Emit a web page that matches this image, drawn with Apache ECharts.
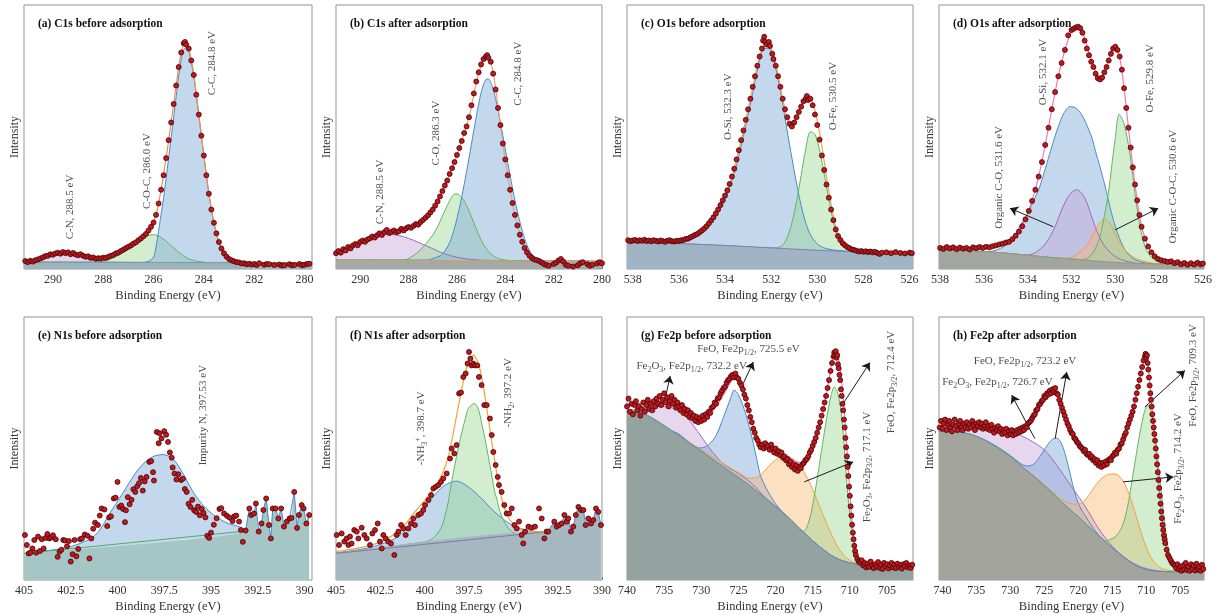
<!DOCTYPE html>
<html>
<head>
    <meta charset="utf-8">
    <title>XPS spectra before and after adsorption</title>
    <script src="https://cdn.jsdelivr.net/npm/echarts@6.0.0/dist/echarts.min.js"></script>
    <style>
        html, body { margin: 0; padding: 0; background: #fff; }
        #main { width: 1216px; height: 615px; }
    </style>
</head>
<body>
    <div id="main"></div>
    <script type="text/javascript">
        // ---- tick labels ----
        var ticksC1s = [280, 282, 284, 286, 288, 290];
        var minorC1s = [281, 283, 285, 287, 289, 291];
        var ticksO1s = [526, 528, 530, 532, 534, 536, 538];
        var minorO1s = [527, 529, 531, 533, 535, 537];
        var ticksN1s = [390, 392.5, 395, 397.5, 400, 402.5, 405];
        var minorN1s = [391.25, 393.75, 396.25, 398.75, 401.25, 403.75];
        var ticksFe = [705, 710, 715, 720, 725, 730, 735, 740];
        var minorFe = [702.5, 707.5, 712.5, 717.5, 722.5, 727.5, 732.5, 737.5];

        // ---- (a) C1s before adsorption ----
        var aDots = [[291.1,3.0],[291.0,2.6],[290.9,3.1],[290.8,2.8],[290.7,3.3],[290.6,3.6],[290.5,4.0],[290.4,4.4],[290.3,4.9],[290.2,5.0],[290.1,5.6],[290.0,5.4],[289.9,5.9],[289.8,6.2],[289.7,5.8],[289.6,6.4],[289.5,6.0],[289.4,6.3],[289.3,5.6],[289.2,6.1],[289.1,5.5],[289.0,5.2],[288.9,5.6],[288.8,5.0],[288.7,4.6],[288.6,4.8],[288.5,4.2],[288.4,4.4],[288.3,3.9],[288.2,4.1],[288.1,4.0],[288.0,4.3],[287.9,4.2],[287.8,4.6],[287.7,5.0],[287.6,5.3],[287.5,5.9],[287.4,6.2],[287.3,6.8],[287.2,7.3],[287.1,7.9],[287.0,8.4],[286.9,8.9],[286.8,9.6],[286.7,10.1],[286.6,10.9],[286.5,11.6],[286.4,12.4],[286.3,13.3],[286.2,14.6],[286.1,16.0],[286.0,17.6],[285.9,20.5],[285.8,24.8],[285.7,30.0],[285.6,35.5],[285.5,42.0],[285.4,48.8],[285.3,55.5],[285.2,62.5],[285.1,69.5],[285.0,76.5],[284.9,82.0],[284.8,85.5],[284.75,86.0],[284.7,85.0],[284.6,83.5],[284.5,79.0],[284.4,73.5],[284.3,66.0],[284.2,58.5],[284.1,50.5],[284.0,43.0],[283.9,35.5],[283.8,28.5],[283.7,22.5],[283.6,17.5],[283.5,13.5],[283.4,10.2],[283.3,7.8],[283.2,6.0],[283.1,4.7],[283.0,3.8],[282.9,3.3],[282.8,2.9],[282.7,2.6],[282.6,2.5],[282.5,2.1],[282.4,2.2],[282.3,1.8],[282.2,2.0],[282.1,1.7],[282.0,1.9],[281.9,1.5],[281.8,2.2],[281.6,1.6],[281.5,1.9],[281.4,1.8],[281.2,1.5],[281.0,1.7],[280.9,1.3],[280.8,1.4],[280.6,1.8],[280.5,1.4],[280.4,1.5],[280.2,1.9],[280.1,1.4],[280.0,1.6],[279.9,1.9],[279.8,2.0]];
        var aBg = [[291.15,2.6],[279.7,2.3]];
        var aCN = [[290.9,2.65],[290.6,3.1],[290.3,4.2],[290.0,5.3],[289.7,6.0],[289.4,6.2],[289.1,5.7],[288.8,4.7],[288.5,3.7],[288.2,2.9],[287.9,2.55]];
        var aCOC = [[288.3,2.6],[288.0,3.0],[287.7,3.8],[287.4,5.2],[287.1,7.0],[286.8,9.2],[286.5,11.3],[286.25,12.6],[286.05,13.0],[285.85,12.7],[285.6,11.3],[285.4,9.7],[285.2,8.0],[285.0,6.4],[284.8,5.0],[284.6,3.9],[284.4,3.2],[284.1,2.7],[283.8,2.45]];
        var aCC = [[286.5,2.5],[286.2,2.9],[286.0,4.5],[285.9,8.5],[285.8,14.5],[285.7,20.7],[285.6,27.0],[285.5,34.3],[285.4,42.0],[285.3,49.6],[285.2,57.5],[285.1,65.4],[285.0,73.2],[284.9,79.5],[284.8,83.1],[284.7,83.9],[284.6,82.5],[284.5,78.4],[284.4,73.1],[284.3,65.7],[284.2,58.3],[284.1,50.4],[284.0,43.0],[283.9,35.5],[283.8,28.5],[283.7,22.5],[283.6,17.5],[283.5,13.5],[283.4,10.2],[283.3,7.8],[283.2,6.0],[283.1,4.7],[283.0,3.8],[282.8,2.9],[282.6,2.5],[282.4,2.35]];
        var aEnv = [[291.15,2.8],[290.8,3.2],[290.5,4.0],[290.2,5.1],[289.9,5.8],[289.6,6.1],[289.3,6.0],[289.0,5.5],[288.7,4.8],[288.4,4.3],[288.1,4.1],[287.8,4.5],[287.5,5.6],[287.2,7.2],[286.9,8.9],[286.6,10.8],[286.3,13.3],[286.1,16.0],[285.9,20.5],[285.7,30.0],[285.5,42.0],[285.3,55.5],[285.1,69.5],[284.95,79.5],[284.8,85.0],[284.7,85.3],[284.55,81.5],[284.4,73.5],[284.2,58.5],[284.0,43.0],[283.8,28.5],[283.6,17.5],[283.4,10.2],[283.2,6.0],[283.0,3.8],[282.7,2.8],[282.3,2.4],[281.5,2.3],[279.7,2.3]];
        var aNotes = [
            {at: [283.69, 78], text: 'C-C, 284.8 eV', rot: 90},
            {at: [286.27, 37.1], text: 'C-O-C, 286.0 eV', rot: 90},
            {at: [289.32, 23.5], text: 'C-N, 288.5 eV', rot: 90}
        ];

        // ---- (b) C1s after adsorption ----
        var bDots = [[291.0,6.0],[290.9,6.8],[290.8,6.2],[290.7,7.5],[290.6,7.0],[290.5,8.3],[290.4,7.8],[290.3,8.9],[290.2,9.5],[290.1,9.0],[290.0,10.2],[289.9,10.8],[289.8,10.3],[289.7,11.2],[289.6,11.6],[289.5,12.3],[289.4,11.9],[289.3,12.8],[289.2,13.5],[289.1,12.9],[289.0,14.0],[288.9,14.8],[288.8,13.6],[288.7,14.1],[288.6,14.6],[288.5,13.9],[288.4,14.3],[288.3,15.2],[288.2,14.6],[288.1,15.4],[288.0,15.9],[287.9,15.6],[287.8,16.3],[287.7,17.0],[287.6,16.8],[287.5,17.8],[287.4,18.6],[287.3,19.4],[287.2,20.3],[287.1,21.4],[287.0,22.5],[286.9,24.0],[286.8,25.6],[286.7,27.5],[286.6,29.5],[286.5,31.6],[286.4,33.5],[286.3,36.0],[286.2,38.2],[286.1,40.5],[286.0,43.2],[285.9,45.8],[285.8,48.5],[285.7,51.5],[285.6,54.0],[285.5,57.5],[285.4,62.0],[285.3,66.5],[285.2,71.0],[285.1,74.5],[285.0,77.5],[284.9,79.5],[284.8,80.5],[284.75,81.0],[284.7,80.0],[284.6,78.5],[284.5,74.0],[284.4,68.0],[284.3,61.0],[284.2,54.5],[284.1,47.5],[284.0,41.5],[283.9,35.5],[283.8,30.0],[283.7,25.0],[283.6,20.5],[283.5,16.5],[283.4,13.0],[283.3,10.3],[283.2,8.0],[283.1,6.3],[283.0,5.0],[282.9,4.2],[282.8,3.6],[282.7,3.4],[282.6,3.0],[282.5,2.5],[282.4,1.9],[282.3,1.5],[282.2,1.2],[282.0,1.9],[281.9,2.4],[281.8,3.2],[281.7,3.8],[281.6,2.8],[281.5,1.6],[281.4,1.2],[281.2,0.9],[281.0,1.4],[280.9,2.2],[280.8,2.6],[280.6,1.8],[280.5,1.2],[280.4,1.6],[280.2,2.1],[280.1,2.6],[280.0,2.2]];
        var bBg = [[291.0,3.4],[280.0,2.9]];
        var bCN = [[291.0,6.0],[290.6,7.6],[290.2,9.4],[289.8,11.0],[289.4,12.3],[289.0,13.1],[288.6,13.0],[288.2,12.2],[287.8,10.9],[287.4,9.3],[287.0,7.7],[286.6,6.1],[286.2,4.9],[285.8,4.1],[285.4,3.6],[285.0,3.35],[284.6,3.25]];
        var bCO = [[288.2,3.4],[287.9,4.5],[287.6,6.5],[287.3,9.3],[287.0,12.8],[286.8,16.0],[286.6,20.0],[286.4,24.0],[286.2,27.5],[286.05,28.5],[285.9,28.0],[285.7,25.8],[285.5,22.0],[285.3,17.5],[285.1,13.0],[284.9,9.3],[284.7,6.7],[284.5,5.0],[284.3,4.0],[284.0,3.4],[283.7,3.2]];
        var bCC = [[287.2,3.4],[287.0,3.9],[286.7,5.0],[286.5,6.8],[286.3,10.0],[286.1,15.5],[285.9,23.0],[285.7,32.0],[285.5,42.0],[285.3,52.5],[285.1,62.5],[284.95,68.5],[284.8,71.8],[284.7,72.0],[284.55,69.5],[284.4,64.5],[284.2,55.5],[284.0,45.5],[283.8,35.5],[283.6,26.0],[283.4,18.0],[283.2,11.5],[283.0,7.0],[282.8,4.7],[282.6,3.6],[282.4,3.1],[282.2,3.0]];
        var bEnv = [[291.0,6.2],[290.5,8.0],[290.0,10.0],[289.5,12.0],[289.0,13.6],[288.5,14.4],[288.0,15.5],[287.5,17.6],[287.0,22.5],[286.5,31.5],[286.0,43.0],[285.5,57.5],[285.2,70.5],[285.0,77.0],[284.8,80.3],[284.7,80.2],[284.5,74.5],[284.3,61.5],[284.1,47.5],[283.9,35.5],[283.7,25.0],[283.5,16.5],[283.3,10.3],[283.1,6.3],[282.9,4.2],[282.6,3.2],[282.2,3.0],[280.0,2.9]];
        var bNotes = [
            {at: [283.46, 74], text: 'C-C, 284.8 eV', rot: 90},
            {at: [286.88, 51.5], text: 'C-O, 286.3 eV', rot: 90},
            {at: [289.18, 29.2], text: 'C-N, 288.5 eV', rot: 90}
        ];

        // ---- (c) O1s before adsorption ----
        var cDots = [[538.2,10.9],[538.1,10.5],[538.0,10.8],[537.9,11.0],[537.8,10.6],[537.7,10.9],[537.6,10.7],[537.5,11.1],[537.4,10.6],[537.3,10.8],[537.2,10.5],[537.1,10.9],[537.0,10.7],[536.9,10.4],[536.8,10.8],[536.7,10.6],[536.6,10.3],[536.5,10.7],[536.4,10.9],[536.3,10.5],[536.2,10.4],[536.1,10.7],[536.0,10.6],[535.9,10.9],[535.8,11.0],[535.7,11.4],[535.6,11.5],[535.5,12.0],[535.4,12.4],[535.3,12.9],[535.2,13.3],[535.1,13.9],[535.0,14.6],[534.9,15.3],[534.8,16.2],[534.7,17.3],[534.6,18.4],[534.5,19.6],[534.4,21.0],[534.3,22.5],[534.2,24.2],[534.1,26.0],[534.0,27.8],[533.9,29.8],[533.8,32.2],[533.7,35.0],[533.6,38.0],[533.5,41.5],[533.4,45.0],[533.3,48.8],[533.2,52.5],[533.1,56.5],[533.0,60.5],[532.9,64.5],[532.8,69.0],[532.7,73.0],[532.6,77.0],[532.5,80.5],[532.4,83.5],[532.35,86.5],[532.3,88.0],[532.25,86.0],[532.2,85.0],[532.1,86.0],[532.05,84.5],[531.95,81.5],[531.9,79.5],[531.8,77.0],[531.7,73.0],[531.6,69.0],[531.5,64.5],[531.4,60.5],[531.3,57.5],[531.2,55.0],[531.1,54.0],[531.0,55.5],[530.9,57.5],[530.8,59.5],[530.7,61.5],[530.6,63.5],[530.5,64.5],[530.45,65.5],[530.4,64.0],[530.3,64.5],[530.2,62.0],[530.1,58.5],[530.0,54.5],[529.9,49.0],[529.8,43.0],[529.7,37.5],[529.6,32.0],[529.5,27.0],[529.4,22.5],[529.3,18.5],[529.2,15.0],[529.1,12.5],[529.0,11.0],[528.9,9.8],[528.8,9.0],[528.7,8.3],[528.6,7.9],[528.5,7.4],[528.4,7.2],[528.3,6.9],[528.2,6.6],[528.1,6.8],[528.0,6.5],[527.9,6.7],[527.8,6.4],[527.7,6.6],[527.6,6.3],[527.5,6.5],[527.4,6.1],[527.3,5.7],[527.2,6.2],[527.0,6.3],[526.8,6.0],[526.6,6.4],[526.4,6.1],[526.2,5.9],[526.0,6.2],[525.9,6.0]];
        var cBg = [[538.25,10.0],[536,9.6],[534,8.9],[532,8.0],[530,7.1],[528.5,6.6],[525.85,6.2]];
        var cOSi = [[536.5,9.8],[536.0,10.0],[535.6,10.8],[535.3,12.3],[535.0,14.3],[534.7,16.9],[534.4,20.2],[534.1,24.6],[533.8,31.0],[533.5,39.5],[533.2,50.5],[532.9,62.5],[532.7,71.0],[532.5,79.0],[532.3,83.5],[532.1,83.5],[531.9,79.5],[531.7,72.0],[531.5,62.5],[531.3,52.0],[531.1,42.0],[530.9,32.5],[530.7,24.0],[530.5,17.5],[530.3,13.0],[530.0,9.5],[529.7,8.0],[529.3,7.2],[528.9,6.9]];
        var cOFe = [[531.8,8.0],[531.5,9.0],[531.3,12.0],[531.1,17.5],[530.9,25.5],[530.7,35.5],[530.5,45.5],[530.3,52.0],[530.1,51.0],[529.9,45.0],[529.7,36.0],[529.5,26.5],[529.3,18.0],[529.1,12.0],[528.9,8.8],[528.6,7.1],[528.3,6.6]];
        var cEnv = [[538.25,10.8],[537,10.6],[536,10.6],[535.6,11.2],[535.3,12.7],[535,14.6],[534.7,17.5],[534.4,21],[534.1,26],[533.8,32],[533.5,41.5],[533.2,52.5],[532.9,64.5],[532.7,73],[532.5,80.5],[532.3,85],[532.15,85.5],[531.9,81],[531.7,73.5],[531.5,64.5],[531.3,57],[531.15,54.5],[531.0,55.5],[530.8,59.5],[530.6,63.5],[530.4,65],[530.2,63],[530.0,56],[529.8,46.5],[529.6,35],[529.4,24.5],[529.2,16],[529.0,11.5],[528.7,8.5],[528.4,7.3],[528,6.8],[527,6.4],[525.85,6.2]];
        var cNotes = [
            {at: [533.88, 61.5], text: 'O-Si, 532.3 eV', rot: 90},
            {at: [529.33, 65.5], text: 'O-Fe, 530.5 eV', rot: 90}
        ];

        // ---- (d) O1s after adsorption ----
        var dDots = [[538.0,8.0],[537.85,7.6],[537.7,8.3],[537.55,7.8],[537.4,8.2],[537.25,7.5],[537.1,8.1],[536.95,7.7],[536.8,8.0],[536.65,7.4],[536.5,8.2],[536.35,7.9],[536.2,8.3],[536.05,8.0],[535.9,8.4],[535.75,8.2],[535.6,8.6],[535.45,8.9],[535.3,9.3],[535.15,9.6],[535.0,10.0],[534.85,10.3],[534.7,11.3],[534.55,12.6],[534.4,14.2],[534.25,16.2],[534.1,18.8],[533.95,22.0],[533.8,25.8],[533.65,30.0],[533.5,35.0],[533.35,40.5],[533.2,47.0],[533.05,53.5],[532.9,60.5],[532.75,67.0],[532.6,73.0],[532.45,78.0],[532.3,83.0],[532.15,88.5],[532.0,90.5],[531.9,91.0],[531.8,91.5],[531.7,91.8],[531.6,91.2],[531.5,89.5],[531.4,86.5],[531.3,83.5],[531.2,81.0],[531.1,78.5],[531.0,76.5],[530.9,74.0],[530.8,72.3],[530.7,71.8],[530.6,72.5],[530.5,74.5],[530.4,76.5],[530.3,79.0],[530.2,81.5],[530.1,83.5],[530.0,84.2],[529.9,83.0],[529.8,80.5],[529.7,75.5],[529.6,68.5],[529.5,61.0],[529.4,53.5],[529.3,46.0],[529.2,38.5],[529.1,32.0],[529.0,26.0],[528.9,20.5],[528.8,16.0],[528.65,11.5],[528.5,8.5],[528.35,6.3],[528.2,4.8],[528.05,3.8],[527.9,3.3],[527.75,3.0],[527.6,2.7],[527.45,2.9],[527.3,2.2],[527.15,2.6],[527.0,1.8],[526.85,2.3],[526.7,1.6],[526.55,2.2],[526.4,1.7],[526.25,2.4],[526.1,1.8],[526.0,2.1]];
        var dBg = [[538.05,7.4],[536,6.6],[535,6.0],[534,5.2],[533,4.4],[532,3.8],[531,3.1],[530,2.5],[529,2.1],[528,1.9],[525.95,1.8]];
        var dOSi = [[535.5,7.0],[535.0,9.0],[534.6,12.5],[534.3,17.0],[534.0,21.0],[533.7,26.5],[533.5,30.0],[533.25,36.5],[533.0,43.5],[532.8,49.0],[532.6,54.0],[532.35,59.0],[532.07,61.5],[531.8,61.0],[531.53,58.4],[531.3,54.5],[531.08,50.0],[530.9,44.5],[530.7,38.7],[530.5,32.5],[530.32,26.2],[530.15,20.5],[530.0,16.1],[529.8,11.5],[529.56,7.3],[529.3,4.8],[529.1,3.5],[528.8,2.6],[528.5,2.1]];
        var dCO = [[534.0,5.3],[533.6,6.5],[533.3,8.5],[533.0,12.0],[532.75,16.0],[532.45,22.4],[532.1,28.0],[531.76,30.0],[531.4,27.0],[531.08,19.8],[530.85,14.5],[530.62,10.5],[530.4,7.8],[530.17,5.8],[529.9,4.2],[529.6,3.2],[529.2,2.4]];
        var dCOC = [[532.3,4.0],[531.99,4.5],[531.75,5.5],[531.53,7.0],[531.3,9.0],[531.08,12.0],[530.85,15.5],[530.65,18.0],[530.44,18.7],[530.2,16.8],[530.01,13.5],[529.8,10.0],[529.56,7.2],[529.3,5.2],[529.1,4.2],[528.8,3.2],[528.5,2.6],[528.2,2.1]];
        var dOFe = [[531.5,3.5],[531.08,5.5],[530.77,10.5],[530.55,18.0],[530.32,28.5],[530.17,38.5],[530.01,49.0],[529.82,58.6],[529.6,55.0],[529.33,43.5],[529.1,28.6],[528.87,16.0],[528.64,8.5],[528.34,4.3],[527.88,2.3],[527.5,2.0]];
        var dEnv = [[538.05,7.9],[536,8.1],[535.5,8.8],[535,10],[534.7,11.5],[534.4,14.3],[534.1,19],[533.8,26],[533.5,35],[533.2,47],[532.9,60.5],[532.6,73],[532.3,83],[532.0,90],[531.75,91.8],[531.5,89.5],[531.2,82],[530.9,75],[530.7,72.3],[530.5,74.5],[530.3,79],[530.05,83.8],[529.8,80],[529.6,68.5],[529.4,53.5],[529.2,38.5],[529.0,26],[528.8,16],[528.5,8.5],[528.2,4.8],[527.9,3.3],[527.5,2.6],[525.95,2.0]];
        var dNotes = [
            {at: [533.3, 74.6], text: 'O-Si, 532.1 eV', rot: 90},
            {at: [528.42, 72.2], text: 'O-Fe, 529.8 eV', rot: 90},
            {at: [535.31, 34.7], text: 'Organic C-O, 531.6 eV', rot: 90},
            {at: [527.35, 31.2], text: 'Organic C-O-C, 530.6 eV', rot: 90}
        ];
        var dArrows = [[[532.83, 16], [534.81, 23]], [[530.01, 14.8], [528.04, 23]]];

        // ---- (e) N1s before adsorption ----
        var eDots = [[404.95,17.1],[404.85,13.3],[404.75,10.1],[404.65,10.4],[404.55,12.0],[404.45,15.2],[404.35,10.4],[404.25,16.5],[404.15,11.0],[404.05,15.5],[403.95,12.0],[403.85,16.0],[403.75,17.5],[403.65,15.8],[403.55,16.2],[403.45,17.0],[403.3,15.5],[403.2,8.8],[403.1,10.8],[403.0,11.5],[402.9,15.2],[402.8,15.0],[402.7,12.8],[402.6,14.8],[402.5,7.0],[402.4,9.8],[402.3,15.2],[402.2,9.0],[402.1,11.8],[402.0,15.5],[401.9,15.8],[401.75,17.3],[401.6,16.8],[401.5,8.2],[401.4,15.8],[401.3,19.5],[401.2,21.8],[401.05,20.9],[400.95,24.5],[400.85,27.2],[400.7,26.8],[400.55,20.5],[400.45,23.8],[400.35,24.2],[400.2,31.0],[400.1,31.3],[400.0,37.3],[399.9,27.8],[399.8,28.3],[399.7,27.0],[399.6,22.0],[399.55,26.5],[399.45,31.5],[399.35,28.8],[399.25,30.5],[399.15,34.5],[399.05,33.5],[398.95,35.6],[398.85,36.8],[398.75,38.8],[398.65,34.0],[398.55,37.5],[398.45,39.2],[398.3,44.9],[398.2,45.2],[398.1,41.0],[398.05,37.8],[397.9,56.3],[397.8,52.0],[397.75,55.8],[397.65,53.8],[397.5,56.6],[397.4,55.2],[397.3,52.5],[397.2,48.5],[397.1,46.5],[397.05,42.8],[396.95,40.5],[396.85,38.2],[396.75,40.2],[396.6,38.0],[396.5,38.5],[396.4,34.6],[396.3,33.5],[396.2,29.0],[396.1,27.8],[396.0,30.5],[395.9,26.5],[395.8,25.9],[395.7,27.9],[395.6,24.6],[395.5,27.0],[395.4,25.5],[395.3,23.8],[395.2,16.8],[395.1,16.0],[395.0,18.0],[394.85,21.0],[394.7,23.5],[394.55,27.0],[394.45,27.3],[394.3,25.3],[394.15,24.4],[394.0,23.7],[393.85,22.4],[393.75,24.2],[393.65,24.5],[393.5,22.2],[393.4,19.0],[393.3,14.5],[393.15,18.8],[392.95,27.2],[392.85,24.7],[392.7,25.3],[392.6,29.1],[392.45,18.4],[392.3,21.5],[392.2,26.6],[392.05,31.0],[391.9,20.9],[391.8,15.8],[391.7,27.2],[391.55,27.2],[391.4,23.4],[391.25,27.2],[391.1,20.3],[390.95,22.2],[390.8,23.4],[390.7,23.6],[390.55,33.5],[390.4,19.8],[390.3,24.7],[390.15,28.5],[390.05,27.2],[389.9,21.5],[389.75,24.7]];
        var eBg = [[405.0,10.1],[393.15,18.6]];
        var eImp = [[405.0,10.1],[403.5,11.4],[402.5,12.7],[401.5,15.5],[401.0,18.5],[400.4,25.5],[399.9,31.0],[399.5,35.5],[399.0,41.0],[398.5,45.0],[398.0,47.2],[397.55,47.7],[397.0,45.8],[396.5,40.5],[396.0,34.0],[395.5,29.0],[395.0,25.5],[394.5,23.0],[394.0,21.3],[393.5,20.3],[393.15,18.8]];
        var eNotes = [
            {at: [395.41, 62.7], text: 'Impurity N, 397.53 eV', rot: 90}
        ];

        // ---- (f) N1s after adsorption ----
        var fDots = [[404.96,17.1],[404.83,13.3],[404.68,17.7],[404.53,14.6],[404.40,15.8],[404.30,13.3],[404.21,16.5],[404.12,13.9],[403.97,19.0],[403.83,18.4],[403.74,15.8],[403.55,19.9],[403.40,17.1],[403.27,15.8],[403.08,13.3],[402.95,17.7],[402.80,19.0],[402.65,21.5],[402.52,14.6],[402.42,12.0],[402.33,17.1],[402.20,15.8],[402.05,14.6],[401.90,13.9],[401.71,9.5],[401.58,17.1],[401.48,18.4],[401.33,20.9],[401.20,19.6],[401.07,17.1],[400.92,19.6],[400.77,21.5],[400.64,23.4],[400.55,20.9],[400.36,24.7],[400.21,25.3],[400.08,26.6],[399.98,28.5],[399.79,30.4],[399.64,32.3],[399.51,34.8],[399.38,35.4],[399.23,36.1],[399.08,37.3],[398.95,38.6],[398.76,40.5],[398.57,46.2],[398.48,50.0],[398.33,48.1],[398.20,51.3],[398.06,70.9],[397.95,71.3],[397.82,77.2],[397.69,78.5],[397.58,82.3],[397.50,86.7],[397.42,84.2],[397.35,81.6],[397.26,82.3],[397.16,81.6],[397.03,81.6],[396.94,77.2],[396.79,74.1],[396.64,66.5],[396.50,66.5],[396.32,61.4],[396.22,55.1],[396.13,48.7],[396.0,43.7],[395.88,39.2],[395.81,36.1],[395.66,33.5],[395.51,28.5],[395.38,25.3],[395.24,25.3],[395.09,27.2],[394.94,20.9],[394.81,19.6],[394.68,22.2],[394.53,17.1],[394.44,13.9],[394.34,18.4],[394.15,20.3],[393.97,19.9],[393.78,20.3],[393.55,27.2],[393.40,23.4],[393.25,15.8],[393.12,18.4],[393.03,18.4],[392.69,22.2],[392.56,20.3],[392.42,20.9],[392.27,21.5],[392.12,24.7],[391.99,22.2],[391.90,23.4],[391.75,18.4],[391.62,20.3],[391.48,24.7],[391.33,27.8],[391.18,26.6],[391.05,26.6],[390.92,20.9],[390.77,23.4],[390.62,21.5],[390.49,22.8],[390.34,27.2],[390.21,25.9],[390.06,20.9]];
        var fBg = [[405.0,10.1],[393.05,18.4]];
        var fNH3 = [[405.0,10.3],[403.5,11.8],[402.5,13.5],[401.5,16.5],[400.5,23.4],[400.0,27.5],[399.6,31.0],[399.1,34.8],[398.67,36.7],[398.2,37.6],[397.54,35.4],[396.79,31.0],[396.3,27.5],[395.85,24.7],[395.4,22.3],[394.9,20.3],[394.4,19.2],[393.97,18.6],[393.5,18.4],[393.05,18.4]];
        var fNH2 = [[400.0,14.5],[399.6,15.6],[399.3,17.5],[399.04,20.3],[398.85,24.5],[398.67,29.7],[398.5,36.5],[398.3,43.7],[398.1,50.5],[397.9,56.3],[397.7,61.5],[397.54,65.2],[397.2,67.1],[397.0,65.5],[396.88,62.7],[396.75,58.5],[396.6,53.8],[396.4,46.5],[396.22,39.9],[396.05,33.5],[395.94,31.0],[395.75,26.0],[395.56,22.8],[395.3,19.8],[395.09,18.4],[394.8,17.5],[394.53,17.1],[394.0,17.6],[393.5,18.0]];
        var fEnv = [[405.0,10.8],[403.5,12.5],[402.42,14.6],[401.3,19.6],[400.55,25.9],[399.6,33.5],[399.04,39.9],[398.67,46.8],[398.3,58.9],[397.9,72.8],[397.54,82.9],[397.26,85.4],[396.97,82.3],[396.7,74.0],[396.41,61.4],[396.13,48.7],[395.85,37.3],[395.56,28.5],[395.19,22.8],[394.72,19.9],[393.97,18.6],[393.05,18.4]];
        var fNotes = [
            {at: [400.21, 57.7], text: '-NH{s|3}{p|+}, 398.7 eV', rot: 90},
            {at: [395.28, 71.2], text: '-NH{s|2}, 397.2 eV', rot: 90}
        ];

        // ---- (g) Fe2p before adsorption ----
        var gDots = [[740.0,66],[739.8,69],[739.6,64],[739.4,67],[739.2,63],[739.0,66.5],[738.8,68],[738.6,64.5],[738.4,66],[738.2,62.5],[738.0,65],[737.8,67.5],[737.6,64],[737.4,66.5],[737.2,68.5],[737.0,65],[736.8,67],[736.6,64.5],[736.4,68],[736.2,66],[736.0,69],[735.8,67],[735.6,70],[735.4,66.5],[735.2,68.5],[735.0,71],[734.8,67.5],[734.6,69.5],[734.4,66],[734.2,68],[734.0,70],[733.8,67],[733.6,68.5],[733.4,65.5],[733.2,67.5],[733.0,66],[732.8,64.5],[732.6,66.5],[732.4,63.5],[732.2,65],[732.0,63],[731.8,64.5],[731.6,62],[731.4,63.5],[731.2,61.5],[731.0,62.5],[730.8,60.5],[730.6,62],[730.4,60],[730.2,61.5],[730.0,60.5],[729.8,62.5],[729.6,61],[729.4,63],[729.2,62],[729.0,64],[728.8,63.5],[728.6,65.5],[728.4,66],[728.2,67.5],[728.0,67],[727.8,69],[727.6,69.5],[727.4,71],[727.2,72],[727.0,73],[726.8,73.5],[726.6,75],[726.4,76],[726.2,76.5],[726.0,77.5],[725.8,78],[725.6,77],[725.4,78.5],[725.2,77],[725.0,76.5],[724.8,75],[724.6,74],[724.4,72.5],[724.2,70.5],[724.0,69],[723.8,66.5],[723.6,64.5],[723.4,62],[723.2,60],[723.0,57.5],[722.8,56],[722.6,54],[722.4,53],[722.2,51.5],[722.0,50.5],[721.8,51.5],[721.6,50],[721.4,52],[721.2,50.5],[721.0,51],[720.8,49.5],[720.6,51.5],[720.4,50],[720.2,48.5],[720.0,50],[719.8,48],[719.6,49],[719.4,47.5],[719.2,48.5],[719.0,46.5],[718.8,47],[718.6,45.5],[718.4,46],[718.2,44],[718.0,45],[717.8,43],[717.6,44],[717.4,42],[717.2,43.5],[717.0,41.5],[716.8,43],[716.6,42.5],[716.4,44],[716.2,44.5],[716.0,45.5],[715.8,46],[715.6,47],[715.4,48.5],[715.2,49.5],[715.0,51],[714.8,52.5],[714.6,54],[714.4,56],[714.2,58],[714.0,60],[713.8,62.5],[713.6,65],[713.4,67.5],[713.2,70],[713.0,73],[712.8,76],[712.6,79.5],[712.4,82.5],[712.2,85],[712.1,86.5],[712.0,85.5],[711.9,87],[711.8,84.5],[711.7,85.5],[711.6,82],[711.5,80.5],[711.4,78],[711.3,76],[711.2,72.5],[711.1,70],[711.0,67],[710.9,64.5],[710.8,61],[710.7,58],[710.6,54],[710.5,50.5],[710.4,47],[710.3,43],[710.2,39.5],[710.1,35.5],[710.0,32],[709.9,28],[709.8,24.5],[709.7,21],[709.6,18],[709.5,15.5],[709.4,13],[709.3,11],[709.2,9.5],[709.0,8],[708.8,7],[708.6,6.5],[708.4,7.5],[708.2,5.5],[708.0,6.5],[707.8,4.8],[707.6,6.2],[707.4,5],[707.2,7],[707.0,5.5],[706.8,4.5],[706.6,6],[706.4,5],[706.2,6.8],[706.0,4.6],[705.8,5.8],[705.6,4.2],[705.4,6.5],[705.2,5.2],[705.0,6],[704.8,4.4],[704.6,5.5],[704.4,6.5],[704.2,4.8],[704.0,5.8],[703.8,4.5],[703.6,6.2],[703.4,5],[703.2,5.8],[703.0,4.3],[702.8,6],[702.6,5.2],[702.4,6.5],[702.2,4.8],[702.0,5.5],[701.8,4.6],[701.6,5.8]];
        var gBg = [[740,64.2],[738,63.5],[736,60.5],[734,56.8],[732,53],[730,49],[728,45],[726,41],[724,37],[722,32.5],[720,28],[718,23],[716,17.5],[714,12.5],[712,8.5],[710,6.5],[708,5.8],[705,5.5],[701.5,5.4]];
        var gFe2O3a = [[740,64.5],[738,65],[736,66],[734,65.5],[732.5,63.5],[731,58.5],[730,54.5],[729,50.5],[728,47],[727,44],[725,40.5],[723,36.2],[721.5,31.6]];
        var gFeOa = [[733,55.5],[731,51],[730,50.2],[729,51.5],[728,55],[727,62],[726,69.5],[725.6,72.2],[725,70.5],[724,63],[723,52],[722.5,45.5],[722,39.5],[721,33.5],[720,29],[719,25.6]];
        var gFe2O3b = [[730,49.5],[727,44.2],[725,40.8],[723.5,38.6],[722.5,39],[721.5,41.5],[720.5,44.5],[719.5,46.5],[718.5,46.8],[717.5,45.5],[716.5,42.5],[715.5,37.5],[714.5,31],[713.5,24],[712.5,17.5],[711.5,12],[710.5,8.5],[709.5,6.8],[708.5,6.0],[707,5.7]];
        var gFeOb = [[718,23.2],[717,20.2],[716.2,18.5],[715.6,21.5],[715.1,27],[714.6,35],[714.2,42],[713.8,49.5],[713.3,58.5],[712.9,65],[712.5,70.5],[712.1,73.4],[711.7,71.5],[711.3,66.5],[710.9,56],[710.6,44],[710.3,33],[710.0,25],[709.6,17],[709.2,11.5],[708.7,8],[708.2,6.3],[707.5,5.8],[706.5,5.6]];
        var gEnv = [[740,66.5],[737,67.5],[734.5,68.3],[732.5,66.5],[731,63.2],[730,61.8],[729,63],[728,66],[727,70.5],[726,75.5],[725.5,77],[725,76.5],[724.2,71.5],[723.4,62.5],[722.6,55],[722,52.5],[721,51],[720,50],[719,48],[718,46.5],[717.2,45],[716.5,44.5],[715.7,46.5],[715,50.5],[714,59],[713,73],[712.4,83],[712,86.5],[711.6,85],[711.2,78],[710.8,66],[710.4,50],[710,33],[709.6,19.5],[709.2,11.5],[708.8,7.5],[708.3,6.0],[707,5.6],[701.5,5.4]];
        var gNotes = [
            {at: [723.65, 87.7], text: 'FeO, Fe2p{s|1/2}, 725.5 eV', rot: 0},
            {at: [731.3, 81.4], text: 'Fe{s|2}O{s|3}, Fe2p{s|1/2}, 732.2 eV', rot: 0},
            {at: [704.4, 75.3], text: 'FeO, Fe2p{s|3/2}, 712.4 eV', rot: 90},
            {at: [707.74, 43], text: 'Fe{s|2}O{s|3}, Fe2p{s|3/2}, 717.1 eV', rot: 90}
        ];
        var gArrows = [[[734.75, 70.3], [734.2, 77.6]], [[724.35, 74.7], [723.0, 82.9]], [[710.76, 67.7], [707.3, 82.7]], [[716.14, 37.3], [709.55, 44.9]]];

        // ---- (h) Fe2p after adsorption ----
        var hDots = [[740.4,58],[740.2,60.5],[740.0,57.5],[739.8,59.5],[739.6,61],[739.4,57],[739.2,59],[739.0,60.5],[738.8,58],[738.6,56.5],[738.4,59],[738.2,61],[738.0,58.5],[737.8,57],[737.6,59.5],[737.4,60.5],[737.2,58],[737.0,57],[736.8,59.5],[736.6,58],[736.4,60],[736.2,57.5],[736.0,59],[735.8,58],[735.6,60.5],[735.4,59],[735.2,57],[735.0,59.5],[734.8,58.5],[734.6,60],[734.4,58],[734.2,59.5],[734.0,57.5],[733.8,58.5],[733.6,60],[733.4,57.5],[733.2,58.5],[733.0,57],[732.8,59],[732.6,57.5],[732.4,56],[732.2,58],[732.0,57],[731.8,58.5],[731.6,56.5],[731.4,57.5],[731.2,55.5],[731.0,57],[730.8,56],[730.6,57.5],[730.4,55],[730.2,56.5],[730.0,55.5],[729.8,57],[729.6,55],[729.4,56.5],[729.2,55.5],[729.0,57],[728.8,56],[728.6,57.5],[728.4,56.5],[728.2,58],[728.0,57],[727.8,58.5],[727.6,58],[727.4,59.5],[727.2,60],[727.0,60.5],[726.8,61.5],[726.6,62.5],[726.4,63],[726.2,64.5],[726.0,65],[725.8,66.5],[725.6,67],[725.4,68],[725.2,68.5],[725.0,70],[724.8,69.5],[724.6,71],[724.4,70.5],[724.2,72],[724.0,71],[723.8,72.5],[723.6,71.5],[723.4,73],[723.2,71],[723.0,70.5],[722.8,68.5],[722.6,67],[722.4,65.5],[722.2,64],[722.0,62.5],[721.8,61],[721.6,59.5],[721.4,58.5],[721.2,57],[721.0,56],[720.8,55.5],[720.6,54],[720.4,53.5],[720.2,52.5],[720.0,52],[719.8,51],[719.6,50.5],[719.4,50],[719.2,49],[719.0,49.5],[718.8,48],[718.6,47.5],[718.4,48],[718.2,46.5],[718.0,47],[717.8,45.5],[717.6,46],[717.4,44.5],[717.2,45.5],[717.0,43.5],[716.8,44.5],[716.6,43],[716.4,44.5],[716.2,43.5],[716.0,45],[715.8,44],[715.6,45.5],[715.4,46],[715.2,45.5],[715.0,47],[714.8,47.5],[714.6,48.5],[714.4,48],[714.2,49.5],[714.0,50],[713.8,51.5],[713.6,52],[713.4,53.5],[713.2,55],[713.0,56],[712.8,58],[712.6,59.5],[712.4,61],[712.2,62.5],[712.0,64],[711.8,66],[711.6,68.5],[711.4,71],[711.2,73.5],[711.0,76],[710.8,78.5],[710.6,81],[710.4,83.5],[710.2,85],[710.1,86],[710.0,84.5],[709.9,85.5],[709.8,82.5],[709.7,80],[709.6,77],[709.5,74],[709.4,71],[709.3,68.5],[709.2,66],[709.1,63],[709.0,60.5],[708.9,58],[708.8,55.5],[708.7,53],[708.6,50],[708.5,47],[708.4,44],[708.3,41],[708.2,38],[708.1,35],[708.0,32],[707.9,29],[707.8,26],[707.7,23.5],[707.6,21],[707.5,19],[707.4,17],[707.3,15.5],[707.2,14],[707.0,11.5],[706.8,9.5],[706.6,8.5],[706.4,7.5],[706.2,6.5],[706.0,6],[705.8,5.5],[705.6,4.5],[705.4,6],[705.2,4],[705.0,5],[704.8,3.5],[704.6,5.5],[704.4,4],[704.2,6.5],[704.0,3.8],[703.8,5],[703.6,3.5],[703.4,6],[703.2,4.2],[703.0,5.5],[702.8,3.6],[702.6,6.2],[702.4,4],[702.2,5],[702.0,3.5],[701.8,5.8],[701.6,4.2]];
        var hBg = [[740.5,56.5],[738,56.3],[736,55.5],[734,53.5],[732,50.5],[730,47],[728,42.5],[726,38.2],[724,33.5],[722,28.5],[720,24],[718,19.2],[716,14.5],[714,10],[712,6.2],[710,3.9],[708,3.2],[705,3.1],[701.5,3.1]];
        var hFe2O3a = [[740.5,57],[738,58],[735,58.6],[732,57.5],[729,55.5],[727,53],[725,49.5],[723,43],[721,35.5],[719,28],[717,19.5],[715,12.8],[713,8.2],[711,5.2],[709,3.8],[707,3.2]];
        var hFeOa = [[734,53.6],[732,50.8],[730,47.3],[728.5,44.3],[727.5,43.3],[726.5,44.2],[725.5,47.5],[724.5,51.5],[723.8,53.5],[723.2,54],[722.6,52.5],[722,48.5],[721.4,42.5],[720.8,36],[720.2,30.5],[719.6,27],[719,24.5],[718,20.5],[717,17],[716,14.6]];
        var hFe2O3b = [[726,38.5],[724,34],[722,29.8],[720.5,28.8],[719.5,29.3],[718.5,32],[717.5,35.8],[716.5,38.8],[715.5,40.2],[714.6,40.3],[713.5,38],[712.5,32.5],[711.5,24.5],[710.5,16],[709.5,9.5],[708.5,5.8],[707.5,4.2],[706,3.4],[704,3.15]];
        var hFeOb = [[716,14.8],[715,15.8],[714.5,16.5],[713.5,20.5],[712.7,28.5],[712.2,36],[711.7,44],[711.2,52],[710.7,59],[710.2,64.5],[709.8,66.5],[709.4,65],[709,60],[708.6,52.5],[708.2,43.5],[707.8,34],[707.4,24.5],[707,16],[706.6,10],[706.1,6.2],[705.5,4.4],[704.8,3.5],[704,3.2]];
        var hEnv = [[740.5,58.5],[736,58.7],[733,58],[730,56.2],[728.5,56.5],[727.5,58.5],[726.5,62.5],[725.5,67.5],[724.5,71],[723.6,72.3],[723,71],[722.2,64],[721.5,58.5],[720.5,54],[719.5,50.5],[718.5,47.8],[717.5,45.3],[716.7,44],[716,44.3],[715,46.5],[714,50],[713,56],[712,64],[711.2,73.5],[710.6,81],[710.1,85.5],[709.7,81],[709.2,67],[708.7,53],[708.2,38],[707.7,23.5],[707.2,14],[706.6,8.5],[706,6],[705,4.8],[703,4.6],[701.5,4.6]];
        var hNotes = [
            {at: [727.84, 83.3], text: 'FeO, Fe2p{s|1/2}, 723.2 eV', rot: 0},
            {at: [731.9, 75.3], text: 'Fe{s|2}O{s|3}, Fe2p{s|1/2}, 726.7 eV', rot: 0},
            {at: [703.08, 77.8], text: 'FeO, Fe2p{s|3/2}, 709.3 eV', rot: 90},
            {at: [705.28, 42.4], text: 'Fe{s|2}O{s|3}, Fe2p{s|3/2}, 714.2 eV', rot: 90}
        ];
        var hArrows = [[[726.4, 53.8], [729.8, 70.3]], [[723.4, 53.8], [721.7, 79.1]], [[710.2, 65.8], [704.3, 79.7]], [[713.4, 37.3], [706.0, 39.2]]];

        // ---- styles ----
        var FONT = '"Liberation Serif", "Times New Roman", serif';
        var BLUE = '#4b8bc8', BLUE_F = 'rgba(122,167,216,0.45)';
        var GREEN = '#5fb760', GREEN_F = 'rgba(150,212,140,0.42)';
        var PURPLE = '#9a6cc0', PURPLE_F = 'rgba(196,160,216,0.42)';
        var ORANGE = '#f0a23c', ORANGE_F = 'rgba(250,178,110,0.42)';
        var ENV_OR = '#f1a25a', ENV_PINK = '#f27ab4';
        var RICH = {
            s: {fontFamily: FONT, fontSize: 8, color: '#1a1a1a', verticalAlign: 'bottom', lineHeight: 8},
            p: {fontFamily: FONT, fontSize: 8, color: '#1a1a1a', verticalAlign: 'top', lineHeight: 8}
        };

        // put a peak on top of the background outside of its own range
        function onBg(peak, bg) {
            var hi = peak[0][0], lo = peak[peak.length - 1][0];
            var before = bg.filter(function (p) { return p[0] > hi; });
            var after = bg.filter(function (p) { return p[0] < lo; });
            return before.concat(peak, after);
        }

        function curve(gi, data, color, fill, z, width) {
            var s = {
                type: 'line', xAxisIndex: gi, yAxisIndex: gi, data: data,
                smooth: 0.3, symbol: 'none', silent: true, z: z,
                lineStyle: {color: color || 'transparent', width: color ? (width || 1) : 0}
            };
            if (fill) s.areaStyle = {color: fill, opacity: 1, origin: 'start'};
            return s;
        }

        function panelSeries(gi, p) {
            var out = [];
            p.comps.forEach(function (c) {
                out.push(curve(gi, onBg(c[0], p.bg), c[1], c[2], 2));
            });
            var tail = p.tailFrom ? p.dots.filter(function (d) { return d[0] < p.tailFrom; }) : null;
            out.push(curve(gi, tail ? p.bg.concat(tail) : p.bg, null, p.bottom, 3));
            out.push(curve(gi, p.bg, p.bgLine, null, 4));
            if (tail) {
                out.push({type: 'line', xAxisIndex: gi, yAxisIndex: gi, data: tail, symbol: 'none',
                    silent: true, z: 4, lineStyle: {color: BLUE, width: 1}});
            }
            if (p.env) out.push(curve(gi, p.env, p.envColor, null, 4, 1.2));
            out.push({
                type: 'scatter', xAxisIndex: gi, yAxisIndex: gi, data: p.dots, symbolSize: 5,
                silent: true, z: 5,
                itemStyle: {color: '#c8161d', borderColor: '#3a0606', borderWidth: 0.8, opacity: 1}
            });
            var notes = {
                type: 'scatter', xAxisIndex: gi, yAxisIndex: gi, symbolSize: 1, silent: true, z: 6,
                itemStyle: {color: 'transparent'},
                label: {show: true, position: 'inside', fontFamily: FONT, fontSize: 11, color: '#1a1a1a',
                    lineHeight: 15, rich: RICH},
                data: p.notes.map(function (n) {
                    return {value: n.at, label: {rotate: n.rot, formatter: n.text}};
                })
            };
            if (p.arrows) {
                notes.markLine = {
                    silent: true, symbol: ['none', 'arrow'], symbolSize: 8, animation: false,
                    label: {show: false},
                    lineStyle: {color: '#1a1a1a', width: 1, type: 'solid'},
                    data: p.arrows.map(function (a) { return [{coord: a[0]}, {coord: a[1]}]; })
                };
            }
            out.push(notes);
            return out;
        }

        var panels = [
            {title: '(a) C1s before adsorption', box: [24, 5, 288, 264], range: [279.7, 291.15], ticks: ticksC1s, minor: minorC1s,
             dots: aDots, bg: aBg, bottom: '#9cb5bd', bgLine: '#7d9aa6', env: aEnv, envColor: '#ec8f55', notes: aNotes,
             comps: [[aCN, PURPLE, PURPLE_F], [aCOC, GREEN, GREEN_F], [aCC, BLUE, BLUE_F]]},
            {title: '(b) C1s after adsorption', box: [336, 5, 266, 264], range: [280, 291], ticks: ticksC1s, minor: minorC1s,
             dots: bDots, bg: bBg, bottom: '#a4aaa7', bgLine: '#d8a050', env: bEnv, envColor: '#eaa07a', notes: bNotes,
             comps: [[bCN, PURPLE, PURPLE_F], [bCO, GREEN, GREEN_F], [bCC, BLUE, BLUE_F]]},
            {title: '(c) O1s before adsorption', box: [627, 5, 286, 264], range: [525.85, 538.25], ticks: ticksO1s, minor: minorO1s,
             dots: cDots, bg: cBg, bottom: '#9fb5c5', bgLine: '#8a78b8', env: cEnv, envColor: ENV_OR, notes: cNotes,
             comps: [[cOSi, BLUE, BLUE_F], [cOFe, GREEN, GREEN_F]]},
            {title: '(d) O1s after adsorption', box: [939, 5, 265, 264], range: [525.95, 538.05], ticks: ticksO1s, minor: minorO1s,
             dots: dDots, bg: dBg, bottom: '#a3a69e', bgLine: '#8d9a86', env: dEnv, envColor: ENV_PINK, notes: dNotes, arrows: dArrows,
             comps: [[dOSi, BLUE, BLUE_F], [dCO, PURPLE, PURPLE_F], [dCOC, ORANGE, ORANGE_F], [dOFe, GREEN, GREEN_F]]},
            {title: '(e) N1s before adsorption', box: [24, 317, 288, 263], range: [389.6, 405], ticks: ticksN1s, minor: minorN1s,
             dots: eDots, bg: eBg, bottom: '#a5c6c4', bgLine: '#4fae5a', notes: eNotes, tailFrom: 393.2,
             comps: [[eImp, BLUE, BLUE_F]]},
            {title: '(f) N1s after adsorption', box: [336, 317, 266, 263], range: [390, 405], ticks: ticksN1s, minor: minorN1s,
             dots: fDots, bg: fBg, bottom: '#a5b8c0', bgLine: '#8a70b0', env: fEnv, envColor: '#f5a030', notes: fNotes, tailFrom: 393.1,
             comps: [[fNH3, BLUE, BLUE_F], [fNH2, GREEN, GREEN_F]]},
            {title: '(g) Fe2p before adsorption', box: [627, 317, 286, 263], range: [701.5, 740], ticks: ticksFe, minor: minorFe,
             dots: gDots, bg: gBg, bottom: '#95a3a0', bgLine: '#5f8fb0', env: gEnv, envColor: ENV_PINK, notes: gNotes, arrows: gArrows,
             comps: [[gFe2O3a, PURPLE, PURPLE_F], [gFeOa, BLUE, BLUE_F], [gFe2O3b, ORANGE, ORANGE_F], [gFeOb, GREEN, GREEN_F]]},
            {title: '(h) Fe2p after adsorption', box: [939, 317, 265, 263], range: [701.5, 740.5], ticks: ticksFe, minor: minorFe,
             dots: hDots, bg: hBg, bottom: '#a3a59d', bgLine: '#5f8fb0', env: hEnv, envColor: ENV_PINK, notes: hNotes, arrows: hArrows,
             comps: [[hFe2O3a, PURPLE, PURPLE_F], [hFeOa, BLUE, BLUE_F], [hFe2O3b, ORANGE, ORANGE_F], [hFeOb, GREEN, GREEN_F]]}
        ];

        var option = {
            animation: false,
            backgroundColor: '#ffffff',
            title: [], grid: [], xAxis: [], yAxis: [], series: []
        };

        panels.forEach(function (p, gi) {
            var b = p.box;
            option.grid.push({left: b[0], top: b[1], width: b[2], height: b[3], show: true,
                borderColor: '#959595', borderWidth: 1, backgroundColor: 'transparent'});
            option.title.push({text: p.title, left: b[0] + 9, top: b[1] + 8,
                textStyle: {fontFamily: FONT, fontWeight: 'bold', fontSize: 11.5, color: '#111'}});
            option.xAxis.push({
                type: 'value', gridIndex: gi, inverse: true, min: p.range[0], max: p.range[1],
                axisLine: {show: false},
                axisTick: {show: true, inside: true, length: 3, customValues: p.ticks.concat(p.minor),
                    lineStyle: {color: '#777'}},
                axisLabel: {show: true, customValues: p.ticks, fontFamily: FONT, fontSize: 12, color: '#333', margin: 5},
                splitLine: {show: false},
                name: 'Binding Energy (eV)', nameLocation: 'middle', nameGap: 20,
                nameTextStyle: {fontFamily: FONT, fontSize: 12.5, color: '#333'}
            });
            option.yAxis.push({
                type: 'value', gridIndex: gi, min: 0, max: 100,
                axisLine: {show: false}, axisTick: {show: false}, axisLabel: {show: false}, splitLine: {show: false},
                name: 'Intensity', nameLocation: 'middle', nameGap: 3,
                nameTextStyle: {fontFamily: FONT, fontSize: 12, color: '#333'}
            });
            option.series = option.series.concat(panelSeries(gi, p));
        });

        var myChart = echarts.init(document.getElementById('main'));
        myChart.setOption(option);
    </script>
</body>
</html>
